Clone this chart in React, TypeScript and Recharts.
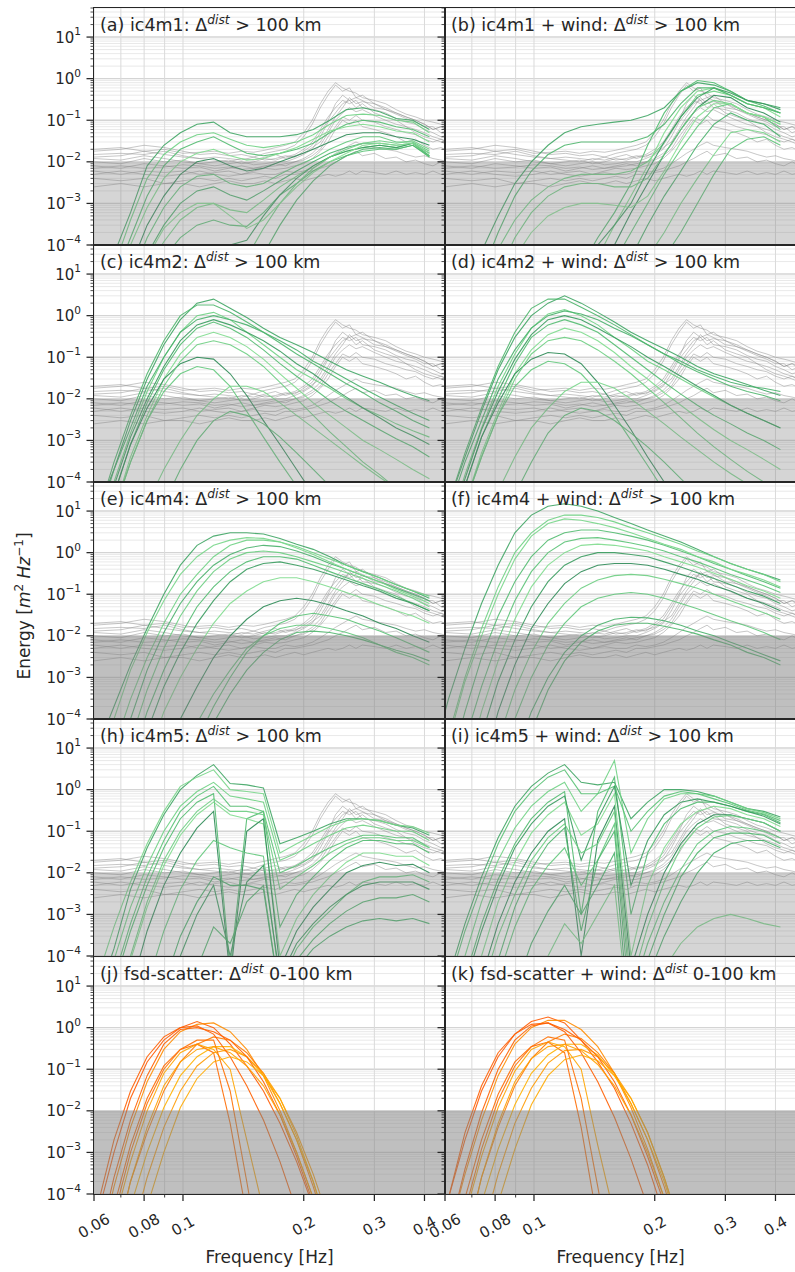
import React from 'react';
import { LineChart, Line, XAxis, YAxis, ReferenceLine, ReferenceArea } from 'recharts';

const FONT = "'DejaVu Sans', sans-serif";
const INK = '#262626';

// model frequency grid (Hz)
const modelFreq = [0.0556, 0.0612, 0.0673, 0.074, 0.0814, 0.0896, 0.0985, 0.1084, 0.1192, 0.1311, 0.1442, 0.1587, 0.1745, 0.192, 0.2112, 0.2323, 0.2555, 0.2811, 0.3092, 0.3401, 0.3741, 0.4115];
const orangeFreq = [0.0556, 0.0612, 0.0673, 0.074, 0.0814, 0.0896, 0.0985, 0.1084, 0.1192, 0.1311, 0.1442, 0.1587, 0.1745, 0.192, 0.2112, 0.2323];
// observed spectra frequency grid (Hz)
const obsFreq = [0.06, 0.07, 0.08, 0.09, 0.1, 0.11, 0.12, 0.13, 0.14, 0.15, 0.16, 0.17, 0.18, 0.19, 0.2, 0.21, 0.22, 0.23, 0.24, 0.25, 0.26, 0.27, 0.28, 0.3, 0.32, 0.34, 0.36, 0.38, 0.4, 0.42, 0.44, 0.46];

const xMajorTicks = [0.06, 0.08, 0.1, 0.2, 0.3, 0.4];
const xTickLabels = ['0.06', '0.08', '0.1', '0.2', '0.3', '0.4'];
const xMinorTicks = [0.07, 0.09];
const yMajorTicks = [1e-4, 1e-3, 1e-2, 1e-1, 1, 10];
const yTickExp = ['\u22124', '\u22123', '\u22122', '\u22121', '0', '1'];
const yMinorTicks = [
  2e-4, 3e-4, 4e-4, 5e-4, 6e-4, 7e-4, 8e-4, 9e-4,
  2e-3, 3e-3, 4e-3, 5e-3, 6e-3, 7e-3, 8e-3, 9e-3,
  2e-2, 3e-2, 4e-2, 5e-2, 6e-2, 7e-2, 8e-2, 9e-2,
  0.2, 0.3, 0.4, 0.5, 0.6, 0.7, 0.8, 0.9,
  2, 3, 4, 5, 6, 7, 8, 9,
  20, 30, 40, 50,
];

// observed buoy spectra (grey)
const obsSpectra = [
  [1.8e-2, 2e-2, 2.5e-2, 2.2e-2, 1.8e-2, 1.5e-2, 1.6e-2, 1.4e-2, 1.5e-2, 1.3e-2, 1.6e-2, 1.8e-2, 2e-2, 2.5e-2, 4e-2, 8e-2, 2e-1, 4e-1, 7e-1, 5e-1, 6e-1, 3.5e-1, 4e-1, 2.5e-1, 2e-1, 1.5e-1, 1.2e-1, 1e-1, 8e-2, 6e-2, 7e-2, 5e-2],
  [1.2e-2, 1.1e-2, 1.4e-2, 1.2e-2, 1e-2, 9e-3, 1e-2, 1.1e-2, 9e-3, 1e-2, 1.2e-2, 1.1e-2, 1.3e-2, 1.5e-2, 2e-2, 3e-2, 6e-2, 1.2e-1, 2e-1, 3e-1, 2.5e-1, 3e-1, 2e-1, 1.8e-1, 1.5e-1, 1.1e-1, 9e-2, 8e-2, 6e-2, 5e-2, 4e-2, 4.5e-2],
  [8e-3, 7e-3, 9e-3, 8e-3, 7e-3, 7.5e-3, 6e-3, 7e-3, 8e-3, 7e-3, 8e-3, 9e-3, 8e-3, 1e-2, 1.2e-2, 1.6e-2, 2.5e-2, 5e-2, 1e-1, 1.5e-1, 2e-1, 1.6e-1, 1.8e-1, 1.3e-1, 1e-1, 8e-2, 7e-2, 5e-2, 4e-2, 3.5e-2, 3e-2, 2.5e-2],
  [6e-3, 5e-3, 6e-3, 5.5e-3, 6e-3, 5e-3, 5.5e-3, 6e-3, 5e-3, 6e-3, 7e-3, 6.5e-3, 7e-3, 8e-3, 9e-3, 1.2e-2, 1.8e-2, 3e-2, 6e-2, 1e-1, 8e-2, 1e-1, 7e-2, 6e-2, 5e-2, 4e-2, 3e-2, 3.5e-2, 2.5e-2, 2e-2, 2.2e-2, 1.8e-2],
  [4e-3, 3.5e-3, 4e-3, 3e-3, 3.5e-3, 4e-3, 3.5e-3, 4e-3, 3.5e-3, 4e-3, 4.5e-3, 4e-3, 5e-3, 5e-3, 5.5e-3, 6e-3, 7e-3, 8e-3, 1e-2, 1.2e-2, 1.5e-2, 1.8e-2, 1.4e-2, 1.6e-2, 1.2e-2, 1.3e-2, 1e-2, 1.1e-2, 9e-3, 8e-3, 1e-2, 8e-3],
  [1e-2, 9e-3, 1.2e-2, 1e-2, 1.1e-2, 9e-3, 8e-3, 9e-3, 1e-2, 8.5e-3, 9e-3, 1e-2, 1e-2, 1.2e-2, 1.5e-2, 2e-2, 4e-2, 9e-2, 1.5e-1, 2.5e-1, 3e-1, 2e-1, 2.5e-1, 1.5e-1, 1.2e-1, 1e-1, 7e-2, 6e-2, 5e-2, 4e-2, 3.5e-2, 3e-2],
  [1.5e-2, 1.6e-2, 1.5e-2, 1.8e-2, 1.4e-2, 1.2e-2, 1.3e-2, 1.2e-2, 1.1e-2, 1.3e-2, 1.1e-2, 1.2e-2, 1.4e-2, 1.3e-2, 1.8e-2, 2.5e-2, 5e-2, 1e-1, 2.5e-1, 4e-1, 3e-1, 3.5e-1, 3e-1, 2e-1, 1.8e-1, 1.4e-1, 1.1e-1, 9e-2, 7e-2, 7e-2, 5e-2, 6e-2],
  [5e-3, 6e-3, 5e-3, 4.5e-3, 5e-3, 6e-3, 5e-3, 4.5e-3, 5e-3, 5.5e-3, 5e-3, 5e-3, 6e-3, 5.5e-3, 6e-3, 7e-3, 9e-3, 1.2e-2, 1.6e-2, 2e-2, 2.5e-2, 3e-2, 2.5e-2, 2.2e-2, 2e-2, 1.8e-2, 1.5e-2, 1.3e-2, 1.4e-2, 1.2e-2, 1.1e-2, 1e-2],
  [2.5e-3, 3e-3, 2.5e-3, 3e-3, 3e-3, 2.5e-3, 3e-3, 3.5e-3, 3e-3, 3e-3, 3.5e-3, 3e-3, 3.5e-3, 4e-3, 3.5e-3, 4e-3, 4.5e-3, 5e-3, 4.5e-3, 5e-3, 6e-3, 5e-3, 6e-3, 5.5e-3, 5e-3, 6e-3, 5e-3, 5.5e-3, 5e-3, 6e-3, 5e-3, 5.5e-3],
  [1.3e-2, 1.4e-2, 1.8e-2, 1.5e-2, 1.3e-2, 1.2e-2, 1.1e-2, 1e-2, 1.2e-2, 1.1e-2, 1.3e-2, 1.5e-2, 1.2e-2, 1.4e-2, 1.6e-2, 2.2e-2, 3e-2, 6e-2, 1.2e-1, 2e-1, 3.5e-1, 2.5e-1, 2.8e-1, 2.5e-1, 1.8e-1, 1.5e-1, 1.2e-1, 1e-1, 8e-2, 6e-2, 7e-2, 6e-2],
  [7e-3, 8e-3, 7e-3, 7.5e-3, 8.5e-3, 8e-3, 7e-3, 7.5e-3, 6.5e-3, 7e-3, 7.5e-3, 8e-3, 9e-3, 1e-2, 1.1e-2, 1.4e-2, 2e-2, 4e-2, 7e-2, 1.2e-1, 1e-1, 1.3e-1, 1e-1, 9e-2, 7e-2, 6e-2, 5e-2, 4.5e-2, 3.5e-2, 3e-2, 3.5e-2, 2.8e-2],
  [2e-2, 2.2e-2, 1.8e-2, 2e-2, 1.6e-2, 1.7e-2, 1.8e-2, 1.6e-2, 1.8e-2, 1.7e-2, 1.9e-2, 2.2e-2, 2.5e-2, 3e-2, 5e-2, 1e-1, 2.5e-1, 5e-1, 8e-1, 6e-1, 5e-1, 4.5e-1, 3.5e-1, 3e-1, 2.5e-1, 1.8e-1, 1.4e-1, 1.2e-1, 1e-1, 9e-2, 8e-2, 7e-2],
];

// (a) ic4m1
const ic4m1 = [
  [1e-6, 1e-5, 6e-5, 6e-4, 8e-3, 2.5e-2, 5e-2, 8e-2, 9e-2, 5e-2, 4e-2, 4e-2, 4e-2, 4.5e-2, 6e-2, 1e-1, 1.8e-1, 2e-1, 1.6e-1, 1.1e-1, 1e-1, 6e-2],
  [3e-7, 3e-6, 3e-5, 4e-4, 4e-3, 1.5e-2, 3e-2, 4.5e-2, 5e-2, 3.5e-2, 2.5e-2, 2.2e-2, 2.5e-2, 3e-2, 4.5e-2, 8e-2, 1.3e-1, 1.4e-1, 1.3e-1, 1e-1, 9e-2, 5e-2],
  [1e-7, 1.5e-6, 1.5e-5, 1.5e-4, 1.5e-3, 8e-3, 2e-2, 3e-2, 4e-2, 2.5e-2, 1.6e-2, 1.4e-2, 1.6e-2, 2e-2, 2.8e-2, 5e-2, 8e-2, 1e-1, 9e-2, 7e-2, 6e-2, 4e-2],
  [1e-7, 1e-6, 1e-5, 1e-4, 8e-4, 4e-3, 1e-2, 1.6e-2, 2e-2, 1.4e-2, 1.1e-2, 1.2e-2, 1.6e-2, 2.2e-2, 3.5e-2, 5.5e-2, 7e-2, 8e-2, 7e-2, 5.5e-2, 5e-2, 3e-2],
  [3e-8, 3e-7, 3e-6, 3e-5, 3e-4, 1.5e-3, 5e-3, 1e-2, 1.2e-2, 8e-3, 6e-3, 7e-3, 1e-2, 1.4e-2, 2e-2, 3e-2, 4.5e-2, 5e-2, 5e-2, 4e-2, 3.5e-2, 2.5e-2],
  [1e-8, 1e-7, 1e-6, 1.5e-5, 1.5e-4, 8e-4, 2.5e-3, 4.5e-3, 5e-3, 3e-3, 2.5e-3, 3e-3, 5e-3, 8e-3, 1.2e-2, 2e-2, 3e-2, 4e-2, 4e-2, 3e-2, 3e-2, 1.8e-2],
  [1e-8, 1e-7, 1e-6, 1e-5, 6e-5, 3e-4, 1e-3, 2e-3, 2.5e-3, 1.6e-3, 1.2e-3, 2e-3, 3.5e-3, 6e-3, 1e-2, 1.6e-2, 2.2e-2, 2.8e-2, 2.8e-2, 2.5e-2, 2.8e-2, 1.4e-2],
  [1e-8, 3e-8, 3e-7, 3e-6, 2.5e-5, 1.2e-4, 4e-4, 8e-4, 1e-3, 7e-4, 6e-4, 1.2e-3, 2.5e-3, 4.5e-3, 8e-3, 1.3e-2, 1.8e-2, 2.2e-2, 2.5e-2, 2.2e-2, 2.8e-2, 1.3e-2],
  [1e-9, 1e-8, 1e-7, 1e-6, 1e-5, 5e-5, 1.5e-4, 3e-4, 4e-4, 3e-4, 2.8e-4, 6e-4, 1.6e-3, 3e-3, 6e-3, 1e-2, 1.4e-2, 1.8e-2, 2e-2, 2e-2, 2.5e-2, 1.4e-2],
  [1e-12, 1e-11, 1e-10, 1e-9, 1e-8, 1e-7, 1e-6, 6e-6, 2.5e-5, 1e-4, 1.3e-4, 5e-4, 1.6e-3, 4e-3, 8e-3, 1.3e-2, 1.8e-2, 2.2e-2, 2.5e-2, 2.2e-2, 2.8e-2, 1.6e-2],
  [1e-12, 1e-11, 1e-10, 1e-9, 1e-8, 1e-7, 3e-7, 1e-6, 3e-6, 1e-5, 5e-5, 2.5e-4, 1e-3, 3e-3, 7e-3, 1.3e-2, 2e-2, 2.8e-2, 3.2e-2, 2.8e-2, 3.2e-2, 2e-2],
  [1e-12, 1e-11, 1e-10, 1e-9, 1e-8, 3e-8, 1e-7, 3e-7, 1e-6, 3e-6, 1e-5, 6e-5, 3e-4, 1.2e-3, 3.5e-3, 8e-3, 1.4e-2, 2e-2, 2.2e-2, 2e-2, 2.5e-2, 1.3e-2],
  [3e-9, 3e-8, 3e-7, 5e-6, 5e-5, 2.5e-4, 6e-4, 1e-3, 1e-3, 5e-4, 2.5e-4, 4e-4, 1e-3, 2.5e-3, 5.5e-3, 1e-2, 1.6e-2, 2.5e-2, 2.8e-2, 2.5e-2, 2.8e-2, 1.6e-2],
];

// (b) ic4m1 + wind
const ic4m1Wind = [
  [1e-7, 1e-6, 1e-5, 7e-5, 5e-4, 3e-3, 1e-2, 2.5e-2, 5e-2, 7e-2, 8e-2, 9e-2, 1e-1, 1.3e-1, 2e-1, 5e-1, 8e-1, 7e-1, 5e-1, 3e-1, 2.5e-1, 2e-1],
  [1e-8, 1e-7, 1e-6, 1e-5, 8e-5, 4e-4, 1.2e-3, 2.5e-3, 4e-3, 5e-3, 5e-3, 5e-3, 6e-3, 1e-2, 3e-2, 1.2e-1, 4e-1, 5e-1, 4e-1, 2.5e-1, 2e-1, 1.5e-1],
  [1e-12, 1e-11, 1e-10, 1e-9, 1e-8, 1e-7, 1e-6, 3e-6, 1e-5, 3e-5, 1.5e-4, 6e-4, 3e-3, 2.5e-2, 1.5e-1, 5e-1, 9e-1, 8e-1, 5e-1, 3e-1, 2.2e-1, 1.5e-1],
  [1e-12, 1e-11, 1e-10, 1e-9, 1e-8, 1e-7, 5e-7, 2e-6, 6e-6, 1.5e-5, 5e-5, 3e-4, 1.5e-3, 8e-3, 5e-2, 2e-1, 5e-1, 6e-1, 4e-1, 2.5e-1, 2e-1, 1.2e-1],
  [1e-12, 1e-11, 1e-10, 1e-9, 1e-8, 5e-8, 2e-7, 6e-7, 2e-6, 6e-6, 2e-5, 1e-4, 6e-4, 3e-3, 1.5e-2, 6e-2, 2e-1, 4e-1, 3.5e-1, 2e-1, 1.5e-1, 9e-2],
  [1e-12, 1e-11, 1e-10, 1e-9, 1e-8, 3e-8, 1e-7, 3e-7, 1e-6, 3e-6, 1e-5, 4e-5, 2e-4, 1e-3, 5e-3, 2e-2, 7e-2, 2e-1, 2.5e-1, 1.5e-1, 1.2e-1, 6e-2],
  [1e-12, 1e-11, 1e-10, 1e-9, 1e-8, 1e-8, 3e-8, 1e-7, 3e-7, 1e-6, 3e-6, 1.2e-5, 5e-5, 3e-4, 1.5e-3, 6e-3, 2.5e-2, 8e-2, 1.5e-1, 1e-1, 8e-2, 4e-2],
  [1e-12, 1e-11, 1e-10, 1e-9, 1e-9, 3e-9, 1e-8, 3e-8, 1e-7, 3e-7, 1e-6, 3e-6, 1e-5, 5e-5, 2e-4, 1e-3, 4e-3, 1.5e-2, 5e-2, 6e-2, 5e-2, 3e-2],
  [1e-12, 1e-12, 1e-11, 1e-10, 1e-9, 1e-9, 3e-9, 1e-8, 3e-8, 1e-7, 3e-7, 1e-6, 3e-6, 1e-5, 5e-5, 2e-4, 1e-3, 5e-3, 2e-2, 3.5e-2, 4e-2, 2.5e-2],
  [1e-12, 1e-11, 1e-10, 1e-9, 1e-8, 1e-7, 5e-7, 2e-6, 1e-5, 3e-5, 1e-4, 3e-4, 1e-3, 6e-3, 3e-2, 1.2e-1, 3.5e-1, 6e-1, 4.5e-1, 3e-1, 2.5e-1, 1.8e-1],
  [1e-9, 1e-8, 1e-7, 2e-6, 2e-5, 1.5e-4, 6e-4, 1.5e-3, 2.5e-3, 3e-3, 3e-3, 2.5e-3, 2.5e-3, 4e-3, 1.5e-2, 6e-2, 2e-1, 3e-1, 2.5e-1, 1.5e-1, 1.2e-1, 8e-2],
  [1e-8, 1e-7, 2e-6, 2e-5, 2e-4, 1.5e-3, 6e-3, 1.5e-2, 2.5e-2, 3e-2, 3e-2, 3e-2, 3e-2, 4e-2, 8e-2, 2.5e-1, 6e-1, 6e-1, 4e-1, 2.5e-1, 2e-1, 1.5e-1],
  [1e-10, 1e-9, 1e-8, 3e-7, 5e-6, 5e-5, 2e-4, 5e-4, 8e-4, 1e-3, 1e-3, 9e-4, 8e-4, 1.5e-3, 6e-3, 3e-2, 1.2e-1, 2.5e-1, 2.5e-1, 1.5e-1, 1.2e-1, 8e-2],
];

// (c) ic4m2
const ic4m2 = [
  [1e-6, 2e-5, 2e-4, 3e-3, 3e-2, 2e-1, 8e-1, 2, 2.5, 1.5, 9e-1, 5e-1, 3e-1, 2e-1, 1.3e-1, 8e-2, 5e-2, 3.5e-2, 2.5e-2, 1.7e-2, 1.2e-2, 9e-3],
  [1e-7, 5e-6, 1e-4, 1.5e-3, 1.5e-2, 1e-1, 4e-1, 1, 1.2, 8e-1, 4e-1, 2e-1, 1e-1, 5e-2, 3e-2, 1.8e-2, 1e-2, 6e-3, 4e-3, 2.5e-3, 1.7e-3, 1.2e-3],
  [1e-7, 3e-6, 5e-5, 8e-4, 8e-3, 5e-2, 2e-1, 5e-1, 7e-1, 5e-1, 3e-1, 1.5e-1, 7e-2, 3.5e-2, 1.8e-2, 9e-3, 5e-3, 3e-3, 1.8e-3, 1.1e-3, 7e-4, 4e-4],
  [1e-8, 1e-6, 2e-5, 4e-4, 4e-3, 3e-2, 1.2e-1, 3e-1, 4e-1, 3e-1, 1.8e-1, 9e-2, 4e-2, 1.8e-2, 8e-3, 4e-3, 2e-3, 1e-3, 6e-4, 3.5e-4, 2e-4, 1.2e-4],
  [1e-7, 3e-6, 5e-5, 8e-4, 6e-3, 3e-2, 7e-2, 1e-1, 9e-2, 4e-2, 1.2e-2, 3e-3, 8e-4, 2e-4, 5e-5, 1.5e-5, 5e-6, 2e-6, 1e-6, 5e-7, 3e-7, 1e-7],
  [1e-8, 1e-6, 2e-5, 3e-4, 3e-3, 1.5e-2, 4e-2, 6e-2, 5e-2, 2e-2, 5e-3, 1.2e-3, 3e-4, 8e-5, 2e-5, 5e-6, 1.5e-6, 5e-7, 2e-7, 1e-7, 5e-8, 2e-8],
  [1e-6, 1e-5, 2e-4, 2e-3, 2e-2, 1e-1, 4e-1, 8e-1, 1, 8e-1, 6e-1, 4e-1, 2.5e-1, 1.5e-1, 8e-2, 5e-2, 3e-2, 1.8e-2, 1.1e-2, 7e-3, 4.5e-3, 3e-3],
  [1e-9, 1e-8, 1e-7, 2e-6, 3e-5, 2e-4, 1e-3, 4e-3, 1e-2, 2e-2, 2e-2, 1.5e-2, 8e-3, 4e-3, 2e-3, 1e-3, 5e-4, 2.5e-4, 1.3e-4, 7e-5, 4e-5, 2e-5],
  [1e-10, 1e-9, 1e-8, 2e-7, 3e-6, 3e-5, 2e-4, 1e-3, 3e-3, 5e-3, 4e-3, 2.5e-3, 1.2e-3, 5e-4, 2e-4, 8e-5, 3e-5, 1.2e-5, 5e-6, 2e-6, 1e-6, 5e-7],
  [1e-7, 4e-6, 8e-5, 1.2e-3, 1e-2, 6e-2, 2.5e-1, 6e-1, 8e-1, 6e-1, 4e-1, 2.5e-1, 1.4e-1, 7e-2, 4e-2, 2e-2, 1.1e-2, 6e-3, 3.5e-3, 2e-3, 1.3e-3, 8e-4],
  [1e-8, 1e-6, 2e-5, 3e-4, 3e-3, 2e-2, 8e-2, 2e-1, 2.5e-1, 2e-1, 1.2e-1, 6e-2, 2.5e-2, 1e-2, 4e-3, 1.6e-3, 7e-4, 3e-4, 1.5e-4, 7e-5, 4e-5, 2e-5],
  [1e-6, 1.5e-5, 3e-4, 4e-3, 4e-2, 2.5e-1, 1, 1.8, 1.8, 1.2, 7e-1, 4e-1, 2.2e-1, 1.2e-1, 7e-2, 4e-2, 2.3e-2, 1.4e-2, 8e-3, 5e-3, 3e-3, 2e-3],
];

// (d) ic4m2 + wind
const ic4m2Wind = [
  [2e-6, 3e-5, 4e-4, 5e-3, 5e-2, 3e-1, 1, 2, 3, 2, 1.2, 7e-1, 4e-1, 2.5e-1, 1.6e-1, 1e-1, 6e-2, 4e-2, 3e-2, 2.2e-2, 1.6e-2, 1.2e-2],
  [2e-7, 8e-6, 1.5e-4, 2e-3, 2e-2, 1.2e-1, 5e-1, 1.1, 1.4, 1, 6e-1, 3e-1, 1.6e-1, 8e-2, 5e-2, 3e-2, 1.8e-2, 1.1e-2, 7e-3, 4.5e-3, 3e-3, 2e-3],
  [1e-7, 4e-6, 8e-5, 1.2e-3, 1e-2, 7e-2, 3e-1, 6e-1, 8e-1, 6e-1, 4e-1, 2e-1, 1e-1, 5e-2, 2.5e-2, 1.3e-2, 7e-3, 4e-3, 2.5e-3, 1.5e-3, 1e-3, 6e-4],
  [1e-8, 1e-6, 3e-5, 5e-4, 5e-3, 4e-2, 1.5e-1, 3.5e-1, 5e-1, 4e-1, 2.5e-1, 1.3e-1, 6e-2, 3e-2, 1.4e-2, 7e-3, 3.5e-3, 1.8e-3, 1e-3, 6e-4, 3.5e-4, 2e-4],
  [1e-7, 4e-6, 8e-5, 1.2e-3, 8e-3, 4e-2, 9e-2, 1.3e-1, 1.2e-1, 7e-2, 2.5e-2, 7e-3, 1.8e-3, 4e-4, 1e-4, 3e-5, 1e-5, 4e-6, 1.5e-6, 6e-7, 3e-7, 1e-7],
  [1e-8, 1e-6, 3e-5, 4e-4, 4e-3, 2e-2, 5e-2, 8e-2, 7e-2, 4e-2, 1.5e-2, 4e-3, 1e-3, 2.5e-4, 6e-5, 1.5e-5, 4e-6, 1e-6, 3e-7, 1e-7, 5e-8, 2e-8],
  [1e-6, 2e-5, 3e-4, 3e-3, 3e-2, 1.5e-1, 5e-1, 1, 1.3, 1.1, 8e-1, 5e-1, 3.3e-1, 2e-1, 1.2e-1, 8e-2, 5e-2, 3.5e-2, 2.5e-2, 2e-2, 1.8e-2, 1.5e-2],
  [1e-9, 1e-8, 2e-7, 4e-6, 6e-5, 4e-4, 2e-3, 6e-3, 1.5e-2, 2.5e-2, 2.5e-2, 1.8e-2, 1e-2, 5e-3, 2.5e-3, 1.2e-3, 6e-4, 3e-4, 1.6e-4, 9e-5, 5e-5, 3e-5],
  [1e-10, 1e-9, 2e-8, 4e-7, 6e-6, 5e-5, 3e-4, 1.5e-3, 4e-3, 6e-3, 5e-3, 3e-3, 1.5e-3, 7e-4, 3e-4, 1.2e-4, 5e-5, 2e-5, 8e-6, 3e-6, 1.5e-6, 6e-7],
  [2e-7, 6e-6, 1.2e-4, 1.8e-3, 1.5e-2, 9e-2, 3.5e-1, 8e-1, 1, 8e-1, 5e-1, 3e-1, 1.8e-1, 1e-1, 6e-2, 3.5e-2, 2e-2, 1.2e-2, 7e-3, 4.5e-3, 3e-3, 2e-3],
  [1e-8, 1e-6, 3e-5, 4e-4, 4e-3, 3e-2, 1.2e-1, 2.5e-1, 3e-1, 2.5e-1, 1.5e-1, 8e-2, 4e-2, 1.8e-2, 8e-3, 3.5e-3, 1.5e-3, 7e-4, 3.5e-4, 1.8e-4, 1e-4, 5e-5],
  [2e-6, 3e-5, 5e-4, 6e-3, 6e-2, 4e-1, 1.5, 2.5, 2.5, 1.6, 1, 6e-1, 3.5e-1, 2e-1, 1.2e-1, 7e-2, 4.5e-2, 3e-2, 2e-2, 1.5e-2, 1.2e-2, 9e-3],
];

// (e) ic4m4
const ic4m4 = [
  [1e-6, 2e-5, 2e-4, 2e-3, 1.5e-2, 1e-1, 5e-1, 1.5, 2.5, 3, 3, 2.8, 2.2, 1.6, 1.2, 8e-1, 5e-1, 3.5e-1, 2.5e-1, 1.7e-1, 1.2e-1, 8e-2],
  [1e-8, 1e-6, 2e-5, 3e-4, 3e-3, 2e-2, 1e-1, 3e-1, 8e-1, 1.5, 2, 2, 1.8, 1.4, 1, 7e-1, 5e-1, 3.5e-1, 2.5e-1, 1.7e-1, 1.2e-1, 9e-2],
  [1e-10, 1e-8, 3e-7, 8e-6, 1.5e-4, 1.5e-3, 1e-2, 5e-2, 1.5e-1, 3.5e-1, 6e-1, 8e-1, 8e-1, 7e-1, 5e-1, 3.5e-1, 2.5e-1, 1.8e-1, 1.3e-1, 9e-2, 6e-2, 4e-2],
  [1e-12, 1e-10, 1e-8, 5e-7, 1e-5, 1.5e-4, 1e-3, 5e-3, 2e-2, 6e-2, 1.2e-1, 2e-1, 2.5e-1, 2.5e-1, 2e-1, 1.5e-1, 1.1e-1, 8e-2, 5.5e-2, 4e-2, 3e-2, 2e-2],
  [1e-12, 1e-11, 1e-10, 1e-8, 5e-7, 1e-5, 1e-4, 6e-4, 3e-3, 1e-2, 2.5e-2, 5e-2, 7e-2, 8e-2, 7e-2, 5.5e-2, 4e-2, 3e-2, 2e-2, 1.5e-2, 1e-2, 7e-3],
  [1e-12, 1e-11, 1e-10, 1e-9, 1e-8, 5e-7, 1e-5, 8e-5, 4e-4, 1.5e-3, 5e-3, 1e-2, 1.5e-2, 1.8e-2, 1.8e-2, 1.5e-2, 1.2e-2, 9e-3, 6e-3, 4e-3, 3e-3, 2e-3],
  [1e-9, 1e-7, 5e-6, 1e-4, 1.5e-3, 1.2e-2, 6e-2, 2e-1, 5e-1, 9e-1, 1.3, 1.5, 1.4, 1.1, 8e-1, 5.5e-1, 4e-1, 2.8e-1, 2e-1, 1.4e-1, 1e-1, 7e-2],
  [1e-7, 5e-6, 1e-4, 1.5e-3, 1.2e-2, 7e-2, 3e-1, 8e-1, 1.5, 2, 2.3, 2.2, 1.8, 1.3, 9e-1, 6e-1, 4e-1, 2.8e-1, 2e-1, 1.3e-1, 9e-2, 6e-2],
  [1e-12, 1e-11, 1e-10, 1e-9, 1e-8, 1e-7, 2e-6, 3e-5, 2e-4, 1e-3, 4e-3, 1e-2, 2e-2, 3e-2, 3.5e-2, 3e-2, 2.5e-2, 1.8e-2, 1.3e-2, 9e-3, 6e-3, 4e-3],
  [1e-11, 1e-9, 5e-8, 2e-6, 5e-5, 6e-4, 4e-3, 2e-2, 7e-2, 2e-1, 4e-1, 5.5e-1, 6e-1, 5e-1, 4e-1, 3e-1, 2.2e-1, 1.6e-1, 1.2e-1, 8e-2, 6e-2, 4e-2],
  [1e-10, 1e-8, 1e-6, 3e-5, 5e-4, 5e-3, 3e-2, 1.2e-1, 3.5e-1, 7e-1, 1, 1.1, 1, 8e-1, 6e-1, 4.5e-1, 3.3e-1, 2.4e-1, 1.7e-1, 1.2e-1, 8e-2, 5e-2],
  [1e-12, 1e-11, 1e-10, 1e-9, 1e-8, 1e-7, 1e-6, 1e-5, 8e-5, 4e-4, 1.5e-3, 4e-3, 8e-3, 1.2e-2, 1.3e-2, 1.2e-2, 1e-2, 8e-3, 6e-3, 4.5e-3, 3.5e-3, 2.5e-3],
];

// (f) ic4m4 + wind
const ic4m4Wind = [
  [1e-5, 3e-4, 5e-3, 6e-2, 5e-1, 3, 8, 13, 15, 13, 10, 7, 5, 3.5, 2.5, 1.8, 1.2, 8e-1, 5.5e-1, 4e-1, 3e-1, 2.2e-1],
  [1e-6, 4e-5, 1e-3, 1.5e-2, 1.5e-1, 1, 3, 6, 8, 8, 7, 5.5, 4, 3, 2.2, 1.6, 1.1, 8e-1, 5.5e-1, 4e-1, 3e-1, 2e-1],
  [1e-7, 5e-6, 1.5e-4, 3e-3, 3e-2, 2e-1, 8e-1, 2, 3, 3.5, 3.5, 3, 2.5, 2, 1.5, 1.1, 8e-1, 5.5e-1, 4e-1, 2.8e-1, 2e-1, 1.4e-1],
  [1e-9, 1e-7, 5e-6, 1.5e-4, 2.5e-3, 2.5e-2, 1.5e-1, 5e-1, 1, 1.5, 1.6, 1.5, 1.3, 1.1, 8e-1, 6e-1, 4.5e-1, 3.2e-1, 2.3e-1, 1.6e-1, 1.2e-1, 8e-2],
  [1e-11, 1e-9, 1e-7, 5e-6, 1.5e-4, 2e-3, 1.5e-2, 6e-2, 1.8e-1, 3.5e-1, 5e-1, 5.5e-1, 5.5e-1, 5e-1, 4e-1, 3e-1, 2.3e-1, 1.6e-1, 1.2e-1, 8e-2, 6e-2, 4e-2],
  [1e-12, 1e-11, 1e-9, 1e-7, 5e-6, 1e-4, 1e-3, 6e-3, 2e-2, 5e-2, 8e-2, 1e-1, 1.1e-1, 1e-1, 8e-2, 6e-2, 4.5e-2, 3.2e-2, 2.3e-2, 1.7e-2, 1.2e-2, 8e-3],
  [1e-12, 1e-11, 1e-10, 1e-8, 5e-7, 1.2e-5, 1.5e-4, 1e-3, 4e-3, 1e-2, 1.8e-2, 2.5e-2, 2.8e-2, 2.7e-2, 2.3e-2, 1.8e-2, 1.3e-2, 1e-2, 7e-3, 5e-3, 3.5e-3, 2.5e-3],
  [1e-6, 3e-5, 8e-4, 1e-2, 1e-1, 7e-1, 2.5, 5, 6.5, 6, 5, 4, 3, 2.2, 1.6, 1.2, 8e-1, 6e-1, 4e-1, 3e-1, 2.2e-1, 1.5e-1],
  [1e-8, 1e-6, 3e-5, 6e-4, 8e-3, 7e-2, 3.5e-1, 1, 1.8, 2.2, 2.3, 2, 1.7, 1.4, 1.1, 8e-1, 6e-1, 4.3e-1, 3e-1, 2.2e-1, 1.6e-1, 1.1e-1],
  [1e-10, 1e-8, 1e-6, 4e-5, 8e-4, 8e-3, 5e-2, 2e-1, 5e-1, 8e-1, 1, 1, 9e-1, 8e-1, 6e-1, 4.5e-1, 3.3e-1, 2.4e-1, 1.7e-1, 1.2e-1, 9e-2, 6e-2],
  [1e-12, 1e-10, 1e-8, 1e-6, 3e-5, 5e-4, 4e-3, 2e-2, 6e-2, 1.4e-1, 2.2e-1, 2.8e-1, 3e-1, 2.8e-1, 2.3e-1, 1.8e-1, 1.4e-1, 1e-1, 7e-2, 5e-2, 3.6e-2, 2.5e-2],
  [1e-12, 1e-11, 1e-10, 1e-9, 5e-8, 2e-6, 5e-5, 5e-4, 2.5e-3, 7e-3, 1.3e-2, 1.8e-2, 2e-2, 2e-2, 1.7e-2, 1.4e-2, 1.1e-2, 8e-3, 6e-3, 4e-3, 3e-3, 2e-3],
];

// (h) ic4m5
const ic4m5 = [
  [1e-6, 1e-5, 1.5e-4, 4e-3, 4e-2, 2.5e-1, 1, 2.2, 4, 1.4, 1.3, 1.1, 5e-2, 7e-2, 1e-1, 1.5e-1, 2e-1, 2e-1, 1.8e-1, 1.4e-1, 1.2e-1, 8e-2],
  [1e-7, 4e-6, 8e-5, 1.5e-3, 1.5e-2, 1e-1, 4e-1, 9e-1, 1.5, 7e-1, 6e-1, 5e-1, 2e-2, 3e-2, 5e-2, 8e-2, 1.2e-1, 1.4e-1, 1.2e-1, 1e-1, 1e-1, 6e-2],
  [1e-8, 1e-6, 2e-5, 4e-4, 5e-3, 4e-2, 2e-1, 5e-1, 8e-1, 5e-5, 2e-1, 3e-1, 5e-4, 3e-3, 8e-3, 2e-2, 4e-2, 6e-2, 6e-2, 5e-2, 5e-2, 3e-2],
  [1e-9, 1e-7, 3e-6, 8e-5, 1.5e-3, 1.5e-2, 8e-2, 2.5e-1, 5e-1, 2.5e-1, 2e-1, 1.5e-1, 1e-4, 8e-4, 3e-3, 8e-3, 1.8e-2, 3e-2, 3e-2, 2.5e-2, 2.5e-2, 1.5e-2],
  [1e-10, 1e-8, 5e-7, 1.5e-5, 4e-4, 5e-3, 3e-2, 1.2e-1, 3e-1, 3e-5, 1e-1, 2e-1, 5e-5, 4e-4, 1.5e-3, 4e-3, 1e-2, 1.5e-2, 1.8e-2, 1.5e-2, 1.6e-2, 1e-2],
  [1e-12, 1e-10, 1e-8, 5e-7, 2e-5, 4e-4, 4e-3, 2e-2, 6e-2, 4e-2, 3e-2, 2.5e-2, 2e-5, 1.5e-4, 5e-4, 1.2e-3, 3e-3, 6e-3, 8e-3, 8e-3, 9e-3, 6e-3],
  [1e-12, 1e-11, 1e-10, 1e-8, 5e-7, 2e-5, 3e-4, 2e-3, 8e-3, 5e-3, 5e-3, 4e-3, 1e-5, 5e-5, 1.5e-4, 3e-4, 5e-4, 7e-4, 8e-4, 7e-4, 8e-4, 6e-4],
  [1e-6, 3e-5, 5e-4, 6e-3, 5e-2, 3e-1, 1.2, 2, 3, 1, 9e-1, 8e-1, 3e-2, 5e-2, 8e-2, 1.3e-1, 1.8e-1, 2e-1, 1.8e-1, 1.4e-1, 1.3e-1, 9e-2],
  [1e-8, 1e-6, 3e-5, 6e-4, 8e-3, 6e-2, 3e-1, 7e-1, 1.2, 4e-1, 4e-1, 3e-1, 1e-2, 1.5e-2, 2.5e-2, 4e-2, 6e-2, 8e-2, 8e-2, 7e-2, 7e-2, 4e-2],
  [1e-12, 1e-11, 1e-10, 1e-9, 1e-7, 5e-6, 1e-4, 1e-3, 5e-3, 1e-4, 6e-3, 1.5e-2, 3e-5, 2e-4, 6e-4, 1.5e-3, 3e-3, 5e-3, 6e-3, 6e-3, 6e-3, 4e-3],
  [1e-9, 1e-7, 4e-6, 1e-4, 2e-3, 2e-2, 1e-1, 3e-1, 6e-1, 3e-1, 3e-1, 2.5e-1, 4e-3, 8e-3, 1.5e-2, 3e-2, 5e-2, 7e-2, 7e-2, 6e-2, 6e-2, 4e-2],
  [1e-12, 1e-11, 1e-10, 1e-9, 1e-8, 1e-7, 2e-6, 5e-5, 5e-4, 2e-4, 2e-3, 5e-3, 1e-5, 8e-5, 2.5e-4, 6e-4, 1.2e-3, 2e-3, 2.5e-3, 2.5e-3, 3e-3, 2e-3],
];

// (i) ic4m5 + wind
const ic4m5Wind = [
  [1e-6, 3e-5, 6e-4, 8e-3, 7e-2, 4e-1, 1.2, 2.5, 4, 1.5, 1.3, 1.5, 2e-1, 5e-1, 1, 1, 9e-1, 7e-1, 5e-1, 3.5e-1, 3e-1, 2.2e-1],
  [1e-7, 4e-6, 1e-4, 2e-3, 2e-2, 1.2e-1, 4e-1, 9e-1, 1.5, 3e-1, 8e-1, 5, 3e-2, 2e-1, 6e-1, 8e-1, 8e-1, 7e-1, 5e-1, 3.5e-1, 2.8e-1, 2e-1],
  [1e-8, 1e-6, 3e-5, 6e-4, 7e-3, 5e-2, 2e-1, 5e-1, 9e-1, 1e-3, 3e-1, 2, 1e-3, 3e-2, 1.5e-1, 3.5e-1, 5e-1, 5e-1, 4e-1, 3e-1, 2.5e-1, 1.6e-1],
  [1e-9, 1e-7, 4e-6, 1e-4, 2e-3, 1.8e-2, 9e-2, 2.5e-1, 5e-1, 8e-2, 1.5e-1, 8e-1, 1e-4, 5e-3, 4e-2, 1.5e-1, 3e-1, 4e-1, 3.5e-1, 2.5e-1, 2e-1, 1.3e-1],
  [1e-10, 1e-8, 1e-6, 3e-5, 6e-4, 6e-3, 3e-2, 1e-1, 2e-1, 1e-4, 6e-2, 4e-1, 5e-5, 1e-3, 1e-2, 5e-2, 1.5e-1, 2.5e-1, 2.5e-1, 2e-1, 1.6e-1, 1e-1],
  [1e-12, 1e-10, 1e-8, 1e-6, 3e-5, 5e-4, 4e-3, 1.5e-2, 4e-2, 5e-3, 2e-2, 1.5e-1, 1e-5, 2e-4, 2e-3, 1.2e-2, 5e-2, 1e-1, 1.3e-1, 1.2e-1, 1e-1, 7e-2],
  [1e-12, 1e-11, 1e-10, 1e-8, 5e-7, 1.5e-5, 2e-4, 1.2e-3, 5e-3, 1e-3, 5e-3, 3e-2, 1e-6, 3e-5, 3e-4, 2e-3, 1e-2, 3e-2, 5e-2, 6e-2, 6e-2, 4e-2],
  [1e-12, 1e-11, 1e-10, 1e-9, 1e-8, 5e-7, 1e-5, 1e-4, 6e-4, 2e-4, 1e-3, 5e-3, 1e-6, 5e-6, 5e-5, 2e-4, 5e-4, 8e-4, 1e-3, 8e-4, 6e-4, 5e-4],
  [1e-6, 2e-5, 4e-4, 5e-3, 5e-2, 3e-1, 9e-1, 2, 3, 8e-1, 8e-1, 1.2, 1e-1, 3e-1, 7e-1, 9e-1, 8e-1, 6e-1, 4.5e-1, 3.2e-1, 2.6e-1, 1.8e-1],
  [1e-8, 1e-6, 2e-5, 4e-4, 5e-3, 4e-2, 1.5e-1, 4e-1, 7e-1, 2e-2, 2e-1, 1.2, 5e-3, 6e-2, 2.5e-1, 5e-1, 6e-1, 5e-1, 4e-1, 3e-1, 2.3e-1, 1.5e-1],
  [1e-10, 1e-8, 5e-7, 1.5e-5, 3e-4, 3e-3, 2e-2, 7e-2, 1.5e-1, 3e-2, 5e-2, 3e-1, 2e-5, 5e-4, 6e-3, 4e-2, 1.2e-1, 2.2e-1, 2.4e-1, 2e-1, 1.6e-1, 1e-1],
  [1e-11, 1e-9, 1e-7, 3e-6, 8e-5, 1.5e-3, 1.2e-2, 5e-2, 1.2e-1, 4e-4, 2e-2, 1e-1, 3e-6, 8e-5, 1e-3, 8e-3, 3e-2, 7e-2, 9e-2, 9e-2, 8e-2, 5e-2],
];

// (j) fsd-scatter
const fsdScatter = [
  [1e-6, 3e-5, 1e-3, 2e-2, 1.5e-1, 5e-1, 1, 1.4, 1, 4e-1, 1.2e-1, 3e-2, 5e-3, 6e-4, 5e-5, 3e-6],
  [1e-7, 3e-6, 1.5e-4, 4e-3, 5e-2, 3e-1, 8e-1, 1.2, 1.3, 8e-1, 3e-1, 7e-2, 1e-2, 1e-3, 8e-5, 5e-6],
  [1e-8, 1e-6, 5e-5, 1.5e-3, 2e-2, 1.2e-1, 3e-1, 4e-1, 2.5e-1, 5e-3, 3e-5, 1e-7, 1e-9, 1e-10, 1e-11, 1e-12],
  [1e-8, 5e-7, 2e-5, 6e-4, 1e-2, 8e-2, 2.5e-1, 4e-1, 3e-1, 1e-1, 2e-3, 4e-5, 1e-6, 1e-8, 1e-10, 1e-12],
  [1e-9, 1e-7, 5e-6, 2e-4, 3e-3, 3e-2, 1.5e-1, 4e-1, 6e-1, 5e-1, 2.5e-1, 8e-2, 1.5e-2, 2e-3, 1.5e-4, 8e-6],
  [1e-10, 1e-8, 1e-6, 5e-5, 1e-3, 1.2e-2, 7e-2, 2e-1, 3.5e-1, 3.5e-1, 2e-1, 7e-2, 1.5e-2, 2e-3, 2e-4, 1e-5],
  [1e-11, 1e-9, 1e-7, 8e-6, 2.5e-4, 4e-3, 3e-2, 1.2e-1, 2.5e-1, 3e-1, 2e-1, 8e-2, 2e-2, 3e-3, 3e-4, 2e-5],
  [1e-7, 5e-6, 2.5e-4, 6e-3, 7e-2, 4e-1, 9e-1, 1, 8e-1, 5e-1, 2e-1, 5e-2, 8e-3, 8e-4, 6e-5, 3e-6],
  [1e-8, 5e-7, 3e-5, 1e-3, 1.5e-2, 1e-1, 3e-1, 5e-1, 5e-1, 3e-2, 2e-4, 1e-6, 1e-8, 1e-10, 1e-11, 1e-12],
  [1e-9, 5e-8, 4e-6, 2e-4, 4e-3, 4e-2, 1.5e-1, 3e-1, 3.5e-1, 2.5e-1, 1.2e-1, 4e-2, 8e-3, 1e-3, 8e-5, 4e-6],
  [1e-6, 5e-5, 2e-3, 3e-2, 2e-1, 6e-1, 1, 1.1, 7e-1, 2e-1, 4e-2, 6e-3, 6e-4, 4e-5, 2e-6, 1e-7],
  [1e-12, 1e-10, 1e-8, 1e-6, 5e-5, 1e-3, 1.2e-2, 6e-2, 1.5e-1, 2e-1, 1.5e-1, 7e-2, 2e-2, 2.5e-3, 2e-4, 1e-5],
];

// (k) fsd-scatter + wind
const fsdScatterWind = [
  [3e-6, 8e-5, 2e-3, 3e-2, 2e-1, 7e-1, 1.4, 1.8, 1.3, 5e-1, 1.5e-1, 3.5e-2, 5e-3, 5e-4, 3e-5, 1.5e-6],
  [3e-7, 1e-5, 3e-4, 6e-3, 7e-2, 4e-1, 1, 1.5, 1.5, 9e-1, 3.5e-1, 8e-2, 1.2e-2, 1.2e-3, 8e-5, 4e-6],
  [2e-8, 2e-6, 8e-5, 2e-3, 2.5e-2, 1.5e-1, 3.5e-1, 4.5e-1, 2.5e-1, 4e-3, 2e-5, 1e-7, 1e-9, 1e-10, 1e-11, 1e-12],
  [1e-8, 8e-7, 3e-5, 8e-4, 1.2e-2, 9e-2, 3e-1, 4.5e-1, 3.5e-1, 1e-1, 1.5e-3, 3e-5, 1e-6, 1e-8, 1e-10, 1e-12],
  [1e-9, 1e-7, 6e-6, 2.5e-4, 4e-3, 4e-2, 1.8e-1, 4.5e-1, 7e-1, 5.5e-1, 2.5e-1, 8e-2, 1.5e-2, 2e-3, 1.5e-4, 8e-6],
  [1e-10, 1e-8, 1e-6, 6e-5, 1.2e-3, 1.4e-2, 8e-2, 2.2e-1, 4e-1, 4e-1, 2.2e-1, 7e-2, 1.5e-2, 2e-3, 2e-4, 1e-5],
  [1e-11, 1e-9, 1e-7, 1e-5, 3e-4, 5e-3, 3.5e-2, 1.4e-1, 2.8e-1, 3e-1, 2e-1, 8e-2, 2e-2, 3e-3, 2.5e-4, 1.5e-5],
  [2e-7, 1e-5, 4e-4, 9e-3, 1e-1, 5e-1, 1.1, 1.3, 9e-1, 5e-1, 2e-1, 5e-2, 8e-3, 8e-4, 6e-5, 3e-6],
  [1e-8, 6e-7, 4e-5, 1.2e-3, 1.8e-2, 1.2e-1, 3.5e-1, 6e-1, 5e-1, 2e-2, 1.5e-4, 1e-6, 1e-8, 1e-10, 1e-11, 1e-12],
  [1e-9, 6e-8, 5e-6, 2.5e-4, 5e-3, 5e-2, 1.8e-1, 3.5e-1, 4e-1, 2.8e-1, 1.3e-1, 4e-2, 8e-3, 1e-3, 8e-5, 4e-6],
  [2e-6, 8e-5, 3e-3, 4e-2, 2.5e-1, 7e-1, 1.2, 1.3, 8e-1, 2.5e-1, 5e-2, 7e-3, 7e-4, 5e-5, 2e-6, 1e-7],
  [1e-12, 1e-10, 1e-8, 1.5e-6, 6e-5, 1.2e-3, 1.4e-2, 7e-2, 1.7e-1, 2.2e-1, 1.6e-1, 7e-2, 2e-2, 3e-3, 2.5e-4, 1.2e-5],
];

const greens = ['#3fa564', '#6fd184', '#52bb70', '#7fdb8e', '#2e8b57', '#63c87c', '#48b06a', '#78d68a', '#5ac276', '#389b5e', '#6dce82', '#4fb66d', '#86df94'];
const oranges = ['#ff5a00', '#ff8c00', '#ff6a00', '#ffa500', '#ff7a00', '#ffb000', '#ff9a00', '#ff6000', '#ff7000', '#ffa000', '#ff5e00', '#ffaa00'];

const rowTops = [8, 245, 482, 719, 957];
const PLOT_W = 351;
const PLOT_H = 237;

type PanelDef = {
  id: string; name: string; wind: boolean; dist: string; row: number; col: number;
  lines: number[][]; orange?: boolean; obs: boolean; shade: number;
};

const panels: PanelDef[] = [
  { id: 'a', name: 'ic4m1', wind: false, dist: '> 100 km', row: 0, col: 0, lines: ic4m1, obs: true, shade: 0.33 },
  { id: 'b', name: 'ic4m1', wind: true, dist: '> 100 km', row: 0, col: 1, lines: ic4m1Wind, obs: true, shade: 0.33 },
  { id: 'c', name: 'ic4m2', wind: false, dist: '> 100 km', row: 1, col: 0, lines: ic4m2, obs: true, shade: 0.33 },
  { id: 'd', name: 'ic4m2', wind: true, dist: '> 100 km', row: 1, col: 1, lines: ic4m2Wind, obs: true, shade: 0.33 },
  { id: 'e', name: 'ic4m4', wind: false, dist: '> 100 km', row: 2, col: 0, lines: ic4m4, obs: true, shade: 0.5 },
  { id: 'f', name: 'ic4m4', wind: true, dist: '> 100 km', row: 2, col: 1, lines: ic4m4Wind, obs: true, shade: 0.5 },
  { id: 'h', name: 'ic4m5', wind: false, dist: '> 100 km', row: 3, col: 0, lines: ic4m5, obs: true, shade: 0.33 },
  { id: 'i', name: 'ic4m5', wind: true, dist: '> 100 km', row: 3, col: 1, lines: ic4m5Wind, obs: true, shade: 0.33 },
  { id: 'j', name: 'fsd-scatter', wind: false, dist: '0-100 km', row: 4, col: 0, lines: fsdScatter, orange: true, obs: false, shade: 0.5 },
  { id: 'k', name: 'fsd-scatter', wind: true, dist: '0-100 km', row: 4, col: 1, lines: fsdScatterWind, orange: true, obs: false, shade: 0.5 },
];

const toPoints = (freq: number[], vals: number[]) => vals.map((v, i) => ({ f: freq[i], v }));

const majorIndex = (list: number[], v: number) => list.findIndex((t) => Math.abs(v / t - 1) < 1e-6);

const XTick = (props: any) => {
  const { x, y, payload } = props;
  const idx = majorIndex(xMajorTicks, payload.value);
  const major = idx >= 0;
  const cy = y + 32;
  return (
    <g>
      <line x1={x} x2={x} y1={y} y2={y + (major ? 7 : 3.5)} stroke={INK} strokeWidth={major ? 1.25 : 0.9} />
      {major && (
        <text x={x} y={cy} textAnchor="middle" dominantBaseline="central" fontSize={15} fill={INK}
          fontFamily={FONT} transform={`rotate(-30 ${x} ${cy})`}>
          {xTickLabels[idx]}
        </text>
      )}
    </g>
  );
};

const YTick = (props: any) => {
  const { x, y, payload, showLabel } = props;
  const idx = majorIndex(yMajorTicks, payload.value);
  const major = idx >= 0;
  return (
    <g>
      <line x1={x - (major ? 7.5 : 3.5)} x2={x} y1={y} y2={y} stroke={INK} strokeWidth={major ? 1.25 : 0.8} />
      {major && showLabel && (
        <text x={x - 13} y={y + 5.5} textAnchor="end" fontSize={15} fill={INK} fontFamily={FONT}>
          <tspan>10</tspan>
          <tspan dy={-7.5} fontSize={10.5}>{yTickExp[idx]}</tspan>
        </text>
      )}
    </g>
  );
};

function Panel({ p }: { p: PanelDef }) {
  const isLeft = p.col === 0;
  const axisW = isLeft ? 94 : 20;
  const chartLeft = isLeft ? 0 : 425;
  const top = rowTops[p.row];
  const isBottom = p.row === rowTops.length - 1;
  const w = axisW + PLOT_W;
  const h = PLOT_H + (isBottom ? 72 : 0);
  const freq = p.orange ? orangeFreq : modelFreq;
  const palette = p.orange ? oranges : greens;

  return (
    <div style={{ position: 'absolute', left: chartLeft, top, width: w, height: h }}>
      <LineChart width={w} height={h} margin={{ top: 0, right: 0, bottom: 0, left: 0 }}>
        <XAxis
          type="number" dataKey="f" scale="log" domain={[0.06, 0.45]} allowDataOverflow
          ticks={[...xMajorTicks, ...xMinorTicks]} interval={0} hide={!isBottom} height={72}
          tickSize={0} tickMargin={0} axisLine={false} tickLine={false}
          tick={(tp: any) => <XTick {...tp} />}
          label={{ value: 'Frequency [Hz]', position: 'insideBottom', offset: 3, fontSize: 17, fill: INK }}
        />
        <YAxis
          type="number" scale="log" domain={[1e-4, 50]} allowDataOverflow
          ticks={[...yMajorTicks, ...yMinorTicks]} interval={0} width={axisW}
          tickSize={0} tickMargin={0} axisLine={false} tickLine={false}
          tick={(tp: any) => <YTick {...tp} showLabel={isLeft} />}
        />
        {yMinorTicks.map((v) => (
          <ReferenceLine key={'hm' + v} y={v} stroke="#e3e3e3" strokeWidth={0.8} ifOverflow="hidden" zIndex={-50} />
        ))}
        {yMajorTicks.map((v) => (
          <ReferenceLine key={'hM' + v} y={v} stroke="#d4d4d4" strokeWidth={1.4} ifOverflow="hidden" zIndex={-50} />
        ))}
        {[...xMajorTicks, ...xMinorTicks].map((v) => (
          <ReferenceLine key={'v' + v} x={v} stroke="#dadada" strokeWidth={1} ifOverflow="hidden" zIndex={-50} />
        ))}
        {p.obs && obsSpectra.map((s, i) => (
          <Line key={'o' + i} data={toPoints(obsFreq, s)} dataKey="v" type="linear" stroke="#8a8a8a"
            strokeOpacity={0.6} strokeWidth={0.8} dot={false} activeDot={false} isAnimationActive={false} />
        ))}
        {p.lines.map((s, i) => (
          <Line key={'m' + i} data={toPoints(freq, s)} dataKey="v" type="linear" stroke={palette[i % palette.length]}
            strokeOpacity={0.9} strokeWidth={1.1} dot={false} activeDot={false} isAnimationActive={false} />
        ))}
        <ReferenceArea y1={1e-4} y2={1e-2} fill="#808080" fillOpacity={p.shade} stroke="none" ifOverflow="hidden" zIndex={1500} />
      </LineChart>
    </div>
  );
}

export default function App() {
  return (
    <div style={{ position: 'absolute', left: 0, top: 0, width: 795, height: 1272, overflow: 'hidden', background: '#fff', fontFamily: FONT, color: INK }}>
      <style>{'.recharts-surface{overflow:visible}'}</style>
      {panels.map((p) => <Panel key={p.id} p={p} />)}
      {panels.map((p) => {
        const plotLeft = p.col === 0 ? 94 : 445;
        const top = rowTops[p.row];
        return (
          <React.Fragment key={'t' + p.id}>
            <div style={{ position: 'absolute', left: plotLeft - 0.6, top: top - 0.6, width: PLOT_W + 1.2, height: PLOT_H + 1.2, border: `1.25px solid ${INK}`, boxSizing: 'border-box', pointerEvents: 'none' }} />
            <div style={{ position: 'absolute', left: plotLeft + 6, top: top + 7, fontSize: 17.5, lineHeight: '20px', whiteSpace: 'nowrap', color: INK }}>
              ({p.id}) {p.name}{p.wind ? ' + wind' : ''}: Δ<span style={{ fontStyle: 'italic', fontSize: '0.7em', position: 'relative', top: '-0.6em' }}>dist</span> {p.dist}
            </div>
          </React.Fragment>
        );
      })}
      <svg width={60} height={1272} style={{ position: 'absolute', left: 0, top: 0 }}>
        <text x={30} y={606} transform="rotate(-90 30 606)" textAnchor="middle" fontSize={17} fill={INK} fontFamily={FONT}>
          <tspan>Energy [</tspan>
          <tspan fontStyle="italic">m</tspan>
          <tspan dy={-7} fontSize={12}>2</tspan>
          <tspan dy={7}>{' '}</tspan>
          <tspan fontStyle="italic">Hz</tspan>
          <tspan dy={-7} fontSize={12}>{'\u22121'}</tspan>
          <tspan dy={7}>]</tspan>
        </text>
      </svg>
    </div>
  );
}
